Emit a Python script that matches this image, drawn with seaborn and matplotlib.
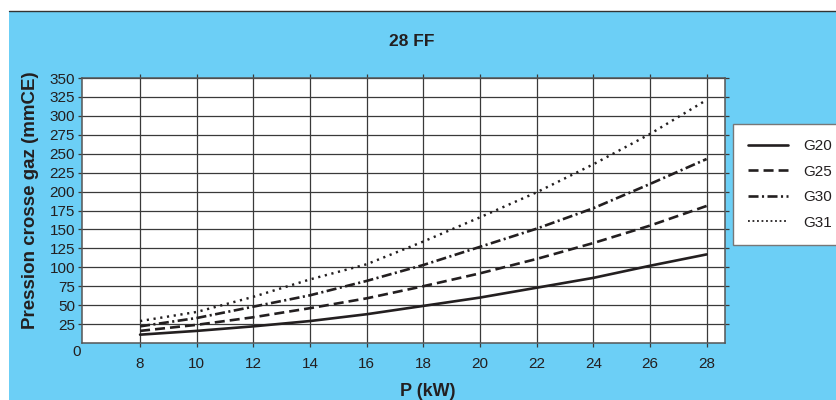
import pandas as pd
import seaborn as sns
import matplotlib.pyplot as plt
from matplotlib.patches import Rectangle
from matplotlib.lines import Line2D

# Values
power_kw = [8, 10, 12, 14, 16, 18, 20, 22, 24, 26, 28]
g20 = [11, 16, 22, 29, 38, 49, 60, 73, 86, 102, 117]
g25 = [16, 24, 34, 46, 59, 75, 92, 111, 132, 155, 181]
g30 = [22, 33, 48, 63, 82, 103, 127, 151, 178, 210, 243]
g31 = [29, 41, 61, 84, 104, 134, 166, 199, 236, 276, 321]
gas_names = ['G20', 'G25', 'G30', 'G31']
y_ticks = [25, 50, 75, 100, 125, 150, 175, 200, 225, 250, 275, 300, 325, 350]

df = pd.DataFrame({'P': power_kw, 'G20': g20, 'G25': g25, 'G30': g30, 'G31': g31})
long_df = df.melt(id_vars='P', var_name='gaz', value_name='pression')

sns.set_theme(style='white')
plt.rcParams['font.family'] = ['Liberation Sans', 'DejaVu Sans']

blue = '#6ccff6'
ink = '#231f20'
fig = plt.figure(figsize=(8.37, 4.0), dpi=100)
fig.patch.set_facecolor(blue)
# white margins (top strip and thin left strip) with a dark rule under the top one
fig.patches.append(Rectangle((0, 1 - 11 / 400), 1, 11 / 400, transform=fig.transFigure,
                             facecolor='white', edgecolor='none', zorder=0))
fig.patches.append(Rectangle((0, 0), 9 / 837, 1, transform=fig.transFigure,
                             facecolor='white', edgecolor='none', zorder=0))
fig.lines.append(Line2D([9 / 837, 1], [1 - 11 / 400, 1 - 11 / 400], transform=fig.transFigure,
                        color='#333333', lw=1.0))

ax = fig.add_axes([82 / 837, 57 / 400, 643 / 837, 265 / 400])
ax.set_facecolor('white')

dash_styles = {'G20': '', 'G25': (3.8, 1.9), 'G30': (3.8, 1.3, 0.8, 1.3), 'G31': (0.9, 1.9)}
sns.lineplot(data=long_df, x='P', y='pression', hue='gaz', style='gaz',
             hue_order=gas_names, style_order=gas_names,
             palette=[ink] * 4, dashes=dash_styles, linewidth=1.9, ax=ax)

# dotted G31 line is a touch thinner
ax.get_lines()[3].set_linewidth(1.75)

handles, labels = ax.get_legend_handles_labels()
ax.get_legend().remove()
for h in handles:
    if h.get_label() == 'G31':
        h.set_linewidth(1.3)
        h.set_dashes((1, 1.5))
leg = fig.legend(handles, labels, loc='upper left', bbox_to_anchor=(733 / 837, 1 - 124 / 400),
                 frameon=True, fancybox=False, fontsize=11, handlelength=2.6,
                 handletextpad=1.0, labelspacing=0.75, borderpad=1.0, borderaxespad=0)
leg.get_frame().set_facecolor('white')
leg.get_frame().set_edgecolor('#777777')
leg.get_frame().set_linewidth(1.0)
leg.get_frame().set_alpha(1)
for t in leg.get_texts():
    t.set_color(ink)

ax.set_xlim(5.95, 28.65)
ax.set_ylim(0, 350)
ax.set_xticks(power_kw)
ax.set_yticks(y_ticks)
ax.grid(True, color='#3a3a3a', lw=0.9)
ax.tick_params(axis='both', which='both', direction='out', length=3, width=0.9,
               color='#3a3a3a', labelsize=11, labelcolor=ink, pad=2,
               top=True, right=True, bottom=True, left=True)
ax.tick_params(axis='x', pad=7)
for side in ax.spines.values():
    side.set_color('#555555')
    side.set_linewidth(1.1)

ax.set_xlabel('')
ax.set_ylabel('')
ax.text(-0.002, -0.034, '0', transform=ax.transAxes, ha='right', va='center',
        fontsize=11, color=ink)

fig.text(412 / 837, 1 - 42 / 400, '28 FF', ha='center', va='center',
         fontsize=12.5, fontweight='bold', color=ink)
fig.text(31 / 837, 200 / 400, 'Pression crosse gaz (mmCE)', rotation=90, ha='center',
         va='center', fontsize=13.5, fontweight='bold', color=ink)
fig.text(428 / 837, 1 - 391 / 400, 'P (kW)', ha='center', va='center',
         fontsize=13, fontweight='bold', color=ink)

plt.savefig('out.png', dpi=100, facecolor=fig.get_facecolor())
plt.close()
